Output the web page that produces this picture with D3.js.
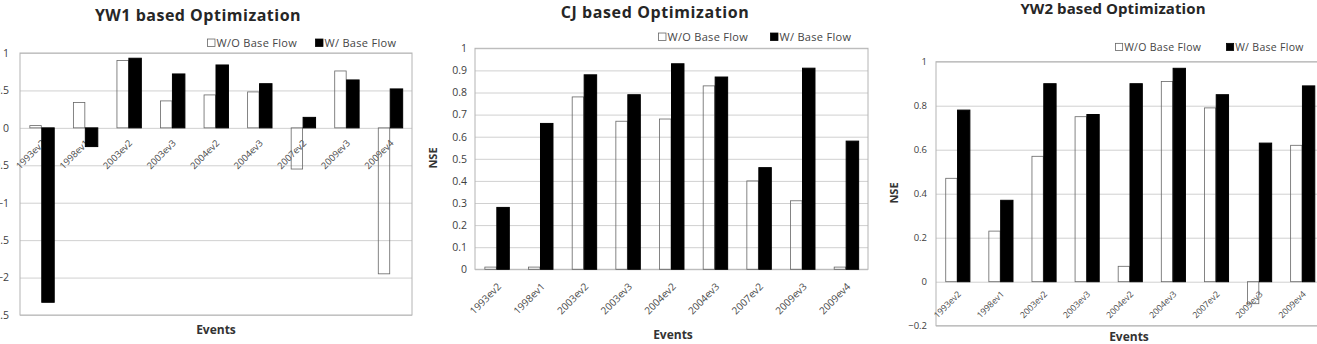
<!DOCTYPE html>
<html>
<head>
<meta charset="utf-8">
<script src="https://cdn.jsdelivr.net/npm/d3@7"></script>
<style>
  html, body { margin: 0; padding: 0; background: #fff; }
  svg { display: block; font-family: "Open Sans", "Noto Sans", sans-serif; }
</style>
</head>
<body>
<svg id="chart" width="1317" height="344"></svg>
<script>
// ---- data ----
const events = ["1993ev2", "1998ev1", "2003ev2", "2003ev3", "2004ev2", "2004ev3", "2007ev2", "2009ev3", "2009ev4"];
const seriesNames = ["W/O Base Flow", "W/ Base Flow"];

const yw1Without = [0.03, 0.34, 0.90, 0.36, 0.44, 0.48, -0.55, 0.76, -1.95];
const yw1With    = [-2.33, -0.25, 0.93, 0.72, 0.84, 0.59, 0.14, 0.64, 0.52];

const cjWithout = [0.01, 0.01, 0.78, 0.67, 0.68, 0.83, 0.40, 0.31, 0.01];
const cjWith    = [0.28, 0.66, 0.88, 0.79, 0.93, 0.87, 0.46, 0.91, 0.58];

const yw2Without = [0.47, 0.23, 0.57, 0.75, 0.07, 0.91, 0.79, -0.10, 0.62];
const yw2With    = [0.78, 0.37, 0.90, 0.76, 0.90, 0.97, 0.85, 0.63, 0.89];

const yw1Ticks = [-2.5, -2, -1.5, -1, -0.5, 0, 0.5, 1];
const cjTicks  = [0, 0.1, 0.2, 0.3, 0.4, 0.5, 0.6, 0.7, 0.8, 0.9, 1];
const yw2Ticks = [-0.2, 0, 0.2, 0.4, 0.6, 0.8, 1];

const titles = ["YW1 based Optimization", "CJ based Optimization", "YW2 based Optimization"];
const xTitle = "Events";
const yTitle = "NSE";

// ---- layout ----
const svg = d3.select("#chart");

const panels = [
  { title: titles[0], without: yw1Without, with: yw1With, ticks: yw1Ticks, domain: [-2.5, 1],
    x0: 20, x1: 412, yTop: 53, yBot: 315, titleX: 198, titleY: 21, titleSize: 16, titleLs: 0.5,
    legY: 47, legX1: 207, legX2: 315, legSize: 11, tickSize: 10.5, tickX: 9,
    labDx: 4, labDy: 16, labSize: 9.3,
    evX: 216, evY: 334, nseX: null, nseY: null },
  { title: titles[1], without: cjWithout, with: cjWith, ticks: cjTicks, domain: [0, 1],
    x0: 475, x1: 868, yTop: 48.3, yBot: 269.3, titleX: 655, titleY: 18, titleSize: 16, titleLs: 0.6,
    legY: 41, legX1: 658, legX2: 770, legSize: 11, tickSize: 10.5, tickX: 467,
    labDx: 5, labDy: 18, labSize: 10,
    evX: 673, evY: 339, nseX: 437, nseY: 158 },
  { title: titles[2], without: yw2Without, with: yw2With, ticks: yw2Ticks, domain: [-0.2, 1],
    x0: 936, x1: 1324, yTop: 61.7, yBot: 325.7, titleX: 1113, titleY: 14, titleSize: 15, titleLs: 0.1,
    legY: 51, legX1: 1115, legX2: 1226, legSize: 10.5, tickSize: 9.5, tickX: 927,
    labDx: 4, labDy: 13, labSize: 8.7,
    evX: 1129, evY: 341, nseX: 898, nseY: 193 }
];

panels.forEach(p => drawPanel(p));

function drawPanel(p) {
  const g = svg.append("g");
  const y = d3.scaleLinear().domain(p.domain).range([p.yBot, p.yTop]);
  const x = d3.scaleBand().domain(events).range([p.x0, p.x1])
    .paddingInner(1.5 / 3.5).paddingOuter(0.75 / 3.5);
  const xs = d3.scaleBand().domain(seriesNames).range([0, x.bandwidth()]);

  // gridlines
  g.append("g")
    .attr("transform", `translate(${p.x0},0)`)
    .call(d3.axisLeft(y).tickValues(p.ticks).tickSize(-(p.x1 - p.x0)).tickFormat(""))
    .call(a => a.select(".domain").remove())
    .call(a => a.selectAll("line").attr("stroke", "#d0d0d0").attr("stroke-width", 1));

  // frame
  g.append("rect")
    .attr("x", p.x0).attr("y", y(p.domain[1]))
    .attr("width", p.x1 - p.x0).attr("height", y(p.domain[0]) - y(p.domain[1]))
    .attr("fill", "none").attr("stroke", "#b4b4b4").attr("stroke-width", 1);

  // y tick labels
  g.append("g")
    .attr("transform", `translate(${p.tickX},0)`)
    .call(d3.axisLeft(y).tickValues(p.ticks).tickSize(0).tickPadding(0).tickFormat(d3.format("")))
    .call(a => a.select(".domain").remove())
    .call(a => a.selectAll("text").attr("fill", "#404040")
      .style("font-size", p.tickSize + "px").style("font-family", "'Open Sans', sans-serif"));

  // x labels
  const labY = y(0) + p.labDy;
  g.append("g").selectAll("text").data(events).join("text")
    .attr("transform", d => `translate(${x(d) + x.bandwidth() / 2 + p.labDx},${labY}) rotate(-45)`)
    .attr("text-anchor", "end")
    .attr("fill", "#4a4a4a")
    .style("font-size", p.labSize + "px")
    .text(d => d);

  // bars (white bars are outline only, as in the reference)
  const rows = events.map((e, i) => ({ e, vals: [p.without[i], p.with[i]] }));
  const grp = g.append("g").selectAll("g").data(rows).join("g")
    .attr("transform", d => `translate(${x(d.e)},0)`);
  grp.selectAll("rect").data(d => d.vals.map((v, k) => ({ v, k }))).join("rect")
    .attr("x", d => xs(seriesNames[d.k]) + (d.k === 0 ? 0.5 : 0))
    .attr("width", d => xs.bandwidth() - (d.k === 0 ? 1 : 0))
    .attr("y", d => Math.min(y(d.v), y(0)))
    .attr("height", d => Math.abs(y(d.v) - y(0)))
    .attr("fill", d => d.k === 0 ? "none" : "#000")
    .attr("stroke", d => d.k === 0 ? "#666" : "#000")
    .attr("stroke-width", d => d.k === 0 ? 0.8 : 1);

  // title
  g.append("text")
    .attr("x", p.titleX).attr("y", p.titleY)
    .attr("text-anchor", "middle")
    .attr("fill", "#262626")
    .style("font-size", p.titleSize + "px").style("font-weight", "bold")
    .style("letter-spacing", p.titleLs + "px")
    .text(p.title);

  // legend
  const legX = [p.legX1, p.legX2];
  seriesNames.forEach((s, k) => {
    const ms = p.legSize * 0.68;
    g.append("rect")
      .attr("x", legX[k] + 0.5).attr("y", p.legY - ms - 0.5)
      .attr("width", ms).attr("height", ms)
      .attr("fill", k === 0 ? "#fff" : "#000")
      .attr("stroke", k === 0 ? "#666" : "#000").attr("stroke-width", 0.8);
    g.append("text")
      .attr("x", legX[k] + ms + 2).attr("y", p.legY)
      .attr("fill", "#454545")
      .style("font-size", p.legSize + "px")
      .style("letter-spacing", "0.3px")
      .text(s);
  });

  // axis titles
  g.append("text")
    .attr("x", p.evX).attr("y", p.evY)
    .attr("text-anchor", "middle").attr("fill", "#333")
    .style("font-size", "12px").style("font-weight", "bold")
    .text(xTitle);
  if (p.nseX !== null) {
    g.append("text")
      .attr("transform", `translate(${p.nseX},${p.nseY}) rotate(-90)`)
      .attr("text-anchor", "middle").attr("fill", "#333")
      .style("font-size", "11px").style("font-weight", "bold")
      .text(yTitle);
  }
}
</script>
</body>
</html>
